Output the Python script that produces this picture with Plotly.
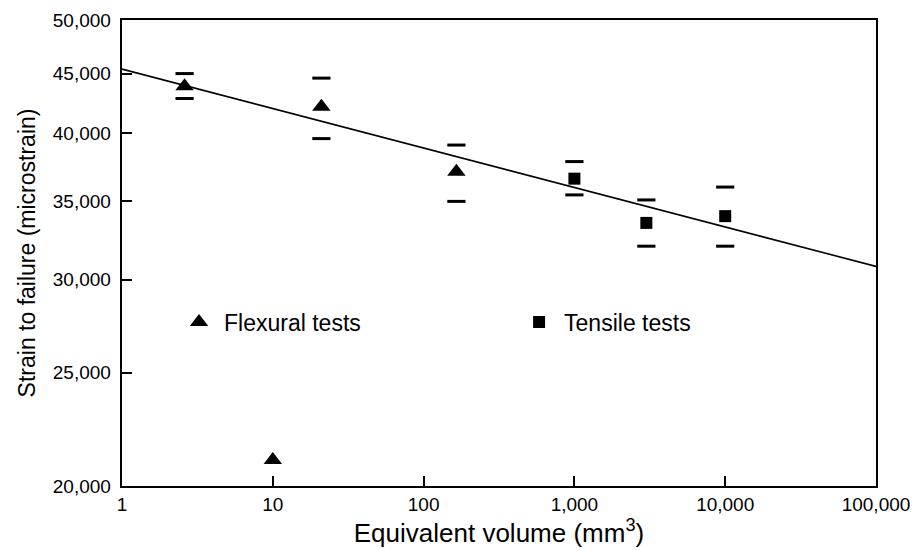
import plotly.graph_objects as go

# Flexural tests
flex_x = [2.6, 21, 165, 10]
flex_y = [43900, 42150, 37100, 21050]
flex_hi = [45000, 44600, 39100, None]
flex_lo = [42850, 39600, 35000, None]

# Tensile tests
tens_x = [1000, 3000, 10000]
tens_y = [36600, 33550, 34000]
tens_hi = [37850, 35100, 36000]
tens_lo = [35450, 32050, 32050]

# Fitted trend line (log-log)
fit_x = [1, 100000]
fit_y = [45400, 30800]

x_ticks = [1, 10, 100, 1000, 10000, 100000]
x_labels = ["1", "10", "100", "1,000", "10,000", "100,000"]
y_ticks = [20000, 25000, 30000, 35000, 40000, 45000, 50000]
y_labels = ["20,000", "25,000", "30,000", "35,000", "40,000", "45,000", "50,000"]

FONT = "Liberation Sans, Arial, sans-serif"

fig = go.Figure()

fig.add_trace(go.Scatter(x=fit_x, y=fit_y, mode="lines",
                         line=dict(color="black", width=1.6), showlegend=False))

# error dashes (top and bottom bars only)
ex = [x for x, h in zip(flex_x, flex_hi) if h is not None] * 2 + tens_x * 2
ey = ([h for h in flex_hi if h is not None] + [l for l in flex_lo if l is not None]
      + tens_hi + tens_lo)
fig.add_trace(go.Scatter(x=ex, y=ey, mode="markers", showlegend=False,
                         marker=dict(symbol="line-ew-open", size=13, color="black",
                                     line=dict(color="black", width=3))))

fig.add_trace(go.Scatter(x=flex_x, y=flex_y, mode="markers", name="Flexural tests",
                         legend="legend",
                         marker=dict(symbol="triangle-up", size=16, color="black")))
fig.add_trace(go.Scatter(x=tens_x, y=tens_y, mode="markers", name="Tensile tests",
                         legend="legend2",
                         marker=dict(symbol="square", size=12, color="black")))

leg_common = dict(yanchor="middle", xanchor="left", bgcolor="rgba(0,0,0,0)",
                  font=dict(size=23, family=FONT, color="black"), itemwidth=40)

fig.update_layout(
    width=914, height=550,
    margin=dict(l=122, r=38, t=20, b=64),
    paper_bgcolor="white", plot_bgcolor="white",
    font=dict(family=FONT, color="black"),
    showlegend=True,
    legend=dict(x=0.069, y=0.352, **leg_common),
    legend2=dict(x=0.520, y=0.352, **leg_common),
)

fig.update_xaxes(type="log", range=[0, 5], tickvals=x_ticks, ticktext=x_labels,
                 ticks="inside", ticklen=10, tickwidth=1.5, tickcolor="black",
                 showline=True, linecolor="black", linewidth=2, mirror=True,
                 showgrid=False, zeroline=False, automargin=False,
                 tickfont=dict(size=19, family=FONT, color="black"),
                 title=dict(text="Equivalent volume (mm<sup>3</sup>)",
                            font=dict(size=26, family=FONT, color="black"), standoff=0))
fig.update_yaxes(type="log", range=[4.30103, 4.69897], tickvals=y_ticks,
                 ticktext=[t + "\u00a0" for t in y_labels],
                 ticks="inside", ticklen=10, tickwidth=1.5, tickcolor="black",
                 showline=True, linecolor="black", linewidth=2, mirror=True,
                 showgrid=False, zeroline=False, automargin=False,
                 tickfont=dict(size=19, family=FONT, color="black"),
                 title=dict(text="Strain to failure (microstrain)",
                            font=dict(size=23, family=FONT, color="black"), standoff=11))

fig.write_html("out.html", config={"displayModeBar": False},
               post_script="document.body.style.margin='0';")
